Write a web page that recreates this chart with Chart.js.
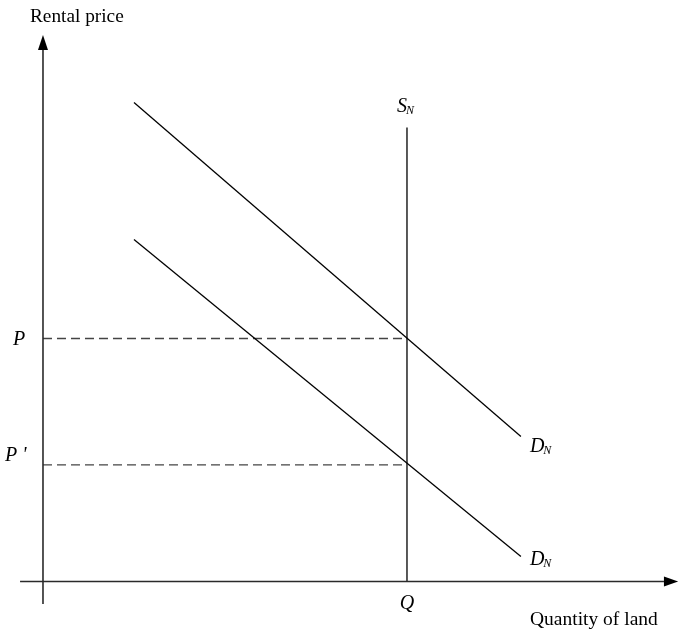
<!DOCTYPE html>
<html><head><meta charset="utf-8">
<script src="https://cdn.jsdelivr.net/npm/chart.js@4"></script>
<style>html,body{margin:0;padding:0;background:#fff;overflow:hidden}</style>
</head><body>
<canvas id="c" width="679" height="631"></canvas>
<script>
// ---- data (abstract diagram units) ----
const supplyQ = [10, 10];
const supplyP = [0, 18.68];
const demandHighQ = [2.5, 13.13];
const demandHighP = [19.71, 5.97];
const demandLowQ = [2.5, 13.13];
const demandLowP = [14.07, 1.03];
const priceLevels = [10, 4.8];          // P, P'
const priceLabels = ['P', "P '"];
const quantityLevel = 10;               // Q
const quantityLabel = 'Q';
const axisTitles = ['Rental price', 'Quantity of land'];
const curveNames = ['S', 'D', 'D'];
const curveSub = 'N';
const xAxisRange = [-0.63, 17.06];      // axis line extent (arrow base)
const yAxisRange = [-0.93, 21.87];
const xArrowTip = 17.45;
const yArrowTip = 22.49;

const pts = (xs, ys) => xs.map((x, i) => ({x, y: ys[i]}));
const solid = (data, w, c) => ({data, showLine: true, pointRadius: 0, borderWidth: w, borderColor: c, fill: false});
const datasets = [
  solid(pts(xAxisRange, [0, 0]), 1.6, '#2a2a2a'),
  solid(pts([0, 0], yAxisRange), 1.6, '#2a2a2a'),
  solid(pts(supplyQ, supplyP), 1.3, '#000'),
  solid(pts(demandHighQ, demandHighP), 1.3, '#000'),
  solid(pts(demandLowQ, demandLowP), 1.3, '#000'),
];
priceLevels.forEach(p => {
  const d = solid(pts([0, quantityLevel], [p, p]), 1.4, '#444');
  d.borderDash = [9, 5];
  datasets.push(d);
});

const labelsPlugin = {
  id: 'labels',
  afterDatasetsDraw(chart) {
    const ctx = chart.ctx, xs = chart.scales.x, ys = chart.scales.y;
    const X = v => xs.getPixelForValue(v), Y = v => ys.getPixelForValue(v);
    ctx.save();
    ctx.fillStyle = '#000';
    // arrowheads
    const ox = X(0), oy = Y(0);
    ctx.beginPath();
    ctx.moveTo(ox, Y(yArrowTip));
    ctx.lineTo(ox - 5, Y(yAxisRange[1]));
    ctx.lineTo(ox + 5, Y(yAxisRange[1]));
    ctx.closePath(); ctx.fill();
    ctx.beginPath();
    ctx.moveTo(X(xArrowTip), oy);
    ctx.lineTo(X(xAxisRange[1]), oy - 5);
    ctx.lineTo(X(xAxisRange[1]), oy + 5);
    ctx.closePath(); ctx.fill();
    // axis titles
    ctx.textBaseline = 'middle';
    ctx.textAlign = 'left';
    ctx.font = '19.3px "Liberation Serif"';
    ctx.fillText(axisTitles[0], 30, 17);
    ctx.font = '19.5px "Liberation Serif"';
    ctx.fillText(axisTitles[1], 530, 620);
    // price labels
    ctx.font = 'italic 20px "Liberation Serif"';
    ctx.textAlign = 'left';
    ctx.fillText(priceLabels[0], 13, Y(priceLevels[0]) + 1);
    ctx.fillText(priceLabels[1], 5, Y(priceLevels[1]) - 9);
    // Q
    ctx.textAlign = 'center';
    ctx.fillText(quantityLabel, X(quantityLevel), 604);
    // subscripted curve labels
    const sub = (name, x, y) => {
      ctx.font = 'italic 20px "Liberation Serif"';
      ctx.textAlign = 'left';
      ctx.fillText(name, x, y);
      const w = ctx.measureText(name).width;
      ctx.font = 'italic 12px "Liberation Serif"';
      ctx.fillText(curveSub, x + w - 1, y + 4);
    };
    sub(curveNames[0], X(supplyQ[0]) - 10, Y(supplyP[1]) - 21);
    sub(curveNames[1], X(demandHighQ[1]) + 9, Y(demandHighP[1]) + 10);
    sub(curveNames[2], X(demandLowQ[1]) + 9, Y(demandLowP[1]) + 3);
    ctx.restore();
  }
};

new Chart(document.getElementById('c'), {
  type: 'scatter',
  data: {datasets},
  options: {
    responsive: false,
    animation: false,
    devicePixelRatio: 1,
    layout: {padding: 0},
    plugins: {legend: {display: false}, tooltip: {enabled: false}},
    scales: {
      x: {type: 'linear', display: false, min: -1.181, max: 17.473},
      y: {type: 'linear', display: false, min: -2.037, max: 23.93}
    },
    elements: {line: {tension: 0}}
  },
  plugins: [labelsPlugin]
});
</script>
</body></html>
